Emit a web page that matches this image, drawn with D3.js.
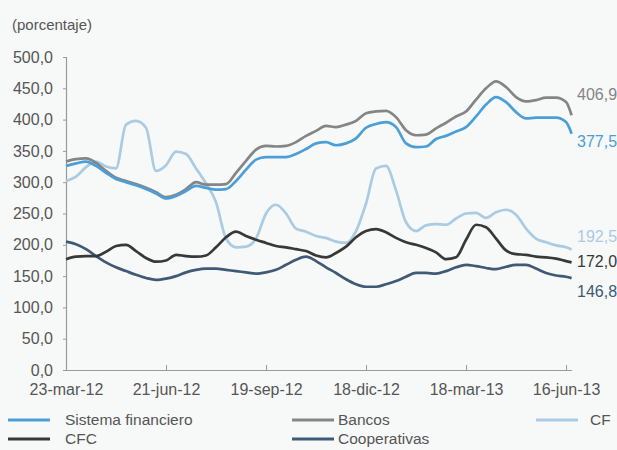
<!DOCTYPE html>
<html>
<head>
<meta charset="utf-8">
<script src="https://cdn.jsdelivr.net/npm/d3@7"></script>
<style>
  html, body { margin: 0; padding: 0; background: #f7f8f8; }
  svg { display: block; font-family: "Liberation Sans", Arial, sans-serif; }
</style>
</head>
<body>
<svg id="chart" width="617" height="450"></svg>
<script>
// ---- Data ----
const dates = [
  "2012-03-23","2012-04-01","2012-04-10","2012-04-19","2012-04-28","2012-05-07","2012-05-16","2012-05-25",
  "2012-06-03","2012-06-12","2012-06-21","2012-06-30","2012-07-09","2012-07-18","2012-07-27","2012-08-05",
  "2012-08-14","2012-08-23","2012-09-01","2012-09-10","2012-09-19","2012-09-28","2012-10-07","2012-10-16",
  "2012-10-25","2012-11-03","2012-11-12","2012-11-21","2012-11-30","2012-12-09","2012-12-18","2012-12-27",
  "2013-01-05","2013-01-14","2013-01-23","2013-02-01","2013-02-10","2013-02-19","2013-02-28","2013-03-09",
  "2013-03-18","2013-03-27","2013-04-05","2013-04-14","2013-04-23","2013-05-02","2013-05-11","2013-05-20",
  "2013-05-29","2013-06-07","2013-06-16","2013-06-21"
];
const sistemaFinanciero = [326,330,333,326,315,305,300,295,289,282,274,278,286,294,291,288,289,302,320,336,340,340,340,345,353,362,364,359,362,370,387,393,396,388,362,356,357,369,374,381,388,405,424,436,428,412,402,403,403,403,396,377.5];
const bancos = [333,337,338,331,318,307,302,297,291,284,276,280,289,300,296,296,297,315,334,352,358,357,358,364,374,382,390,388,392,398,410,413,414,404,383,375,376,386,395,405,413,432,450,461,452,436,429,431,435,435,428,406.9];
const cf = [302,309,324,333,325,322,392,398,387,318,327,349,345,322,298,268,210,196,197,210,250,264,250,226,221,214,211,205,203,222,266,322,326,287,236,222,231,233,232,242,250,251,243,252,256,248,226,210,204,199,196,192.5];
const cfc = [177,181,182,182,189,198,200,190,179,173,175,184,182,181,183,196,212,221,214,208,203,198,196,193,190,183,180,187,197,212,222,225,220,211,204,200,195,188,177,180,208,232,228,210,191,185,184,181,180,178,174,172.0];
const cooperativas = [205,201,193,182,172,164,158,152,147,144,146,150,156,160,162,162,160,158,156,154,156,160,168,176,181,174,164,155,145,137,133,133,137,142,149,155,155,154,158,164,168,166,163,161,165,168,168,162,155,151,149,146.8];

const seriesNames = ["Sistema financiero","Bancos","CF","CFC","Cooperativas"];
const endLabels = ["377,5","406,9","192,5","172,0","146,8"];

const xTickDates = ["2012-03-23","2012-06-21","2012-09-19","2012-12-18","2013-03-18","2013-06-16"];
const xTickLabels = ["23-mar-12","21-jun-12","19-sep-12","18-dic-12","18-mar-13","16-jun-13"];
const yTicks = [0,50,100,150,200,250,300,350,400,450,500];
const yTickLabels = ["0,0","50,0","100,0","150,0","200,0","250,0","300,0","350,0","400,0","450,0","500,0"];
const unitLabel = "(porcentaje)";

// ---- Setup ----
const parse = d3.timeParse("%Y-%m-%d");
const svg = d3.select("#chart");
const W = 617, H = 450;
const plotLeft = 66, plotTop = 57, plotBottom = 370;

svg.append("rect").attr("width", W).attr("height", H).attr("fill", "#f7f8f8");

const x = d3.scaleTime()
  .domain([parse(dates[0]), parse(dates[dates.length - 1])])
  .range([plotLeft, 571.6]);
const y = d3.scaleLinear().domain([0, 500]).range([plotBottom, plotTop]);

const textColor = "#565656";
const axisColor = "#9a9a9a";
const fontSize = 16;
const legendFontSize = 15.5;

// unit label
svg.append("text").attr("x", 12).attr("y", 30)
  .attr("font-size", 15).attr("fill", textColor).text(unitLabel);

// Y axis
const yAxis = d3.axisLeft(y).tickValues(yTicks)
  .tickFormat((d, i) => yTickLabels[i]).tickSize(3).tickPadding(10);
const gy = svg.append("g").attr("transform", `translate(${plotLeft},0)`).call(yAxis);
gy.select(".domain").attr("stroke", axisColor).attr("stroke-width", 1.2);
gy.selectAll(".tick line").attr("stroke", axisColor);
gy.selectAll(".tick text").attr("font-size", fontSize).attr("fill", textColor)
  .attr("font-family", "Liberation Sans, Arial, sans-serif");

// X axis
const xAxis = d3.axisBottom(x).tickValues(xTickDates.map(parse))
  .tickFormat((d, i) => xTickLabels[i]).tickSizeInner(-5).tickSizeOuter(0).tickPadding(14);
const gx = svg.append("g").attr("transform", `translate(0,${plotBottom})`).call(xAxis);
gx.select(".domain").attr("stroke", axisColor).attr("stroke-width", 1.2);
gx.selectAll(".tick line").attr("stroke", axisColor);
gx.selectAll(".tick text").attr("font-size", fontSize).attr("fill", textColor)
  .attr("font-family", "Liberation Sans, Arial, sans-serif");

// Lines
const series = [
  { name: seriesNames[2], values: cf, color: "#a9cbe3", label: endLabels[2], dy: -13 },
  { name: seriesNames[1], values: bancos, color: "#858585", label: endLabels[1], dy: -21 },
  { name: seriesNames[0], values: sistemaFinanciero, color: "#4b9fd6", label: endLabels[0], dy: 8 },
  { name: seriesNames[4], values: cooperativas, color: "#3f5a76", label: endLabels[4], dy: 13 },
  { name: seriesNames[3], values: cfc, color: "#383838", label: endLabels[3], dy: -1 }
];

const line = d3.line()
  .x((d, i) => x(parse(dates[i])))
  .y(d => y(d))
  .curve(d3.curveMonotoneX);

svg.selectAll("path.series").data(series).enter().append("path")
  .attr("class", "series")
  .attr("d", s => line(s.values))
  .attr("fill", "none")
  .attr("stroke", s => s.color)
  .attr("stroke-width", 2.7)
  .attr("stroke-linejoin", "round");

// End labels
svg.selectAll("text.endlabel").data(series).enter().append("text")
  .attr("class", "endlabel")
  .attr("x", 577)
  .attr("y", s => y(s.values[s.values.length - 1]) + s.dy)
  .attr("dy", "0.35em")
  .attr("font-size", fontSize)
  .attr("fill", s => s.color)
  .text(s => s.label);

// Legend
const legendItems = [
  { name: seriesNames[0], color: "#4b9fd6", lx: 8, ly: 420, tx: 57 },
  { name: seriesNames[1], color: "#858585", lx: 292, ly: 420, tx: 46 },
  { name: seriesNames[2], color: "#a9cbe3", lx: 536, ly: 420, tx: 54 },
  { name: seriesNames[3], color: "#383838", lx: 8, ly: 439, tx: 57 },
  { name: seriesNames[4], color: "#3f5a76", lx: 292, ly: 439, tx: 46 }
];
const lg = svg.selectAll("g.legend").data(legendItems).enter().append("g")
  .attr("class", "legend")
  .attr("transform", d => `translate(${d.lx},${d.ly})`);
lg.append("line").attr("x1", 0).attr("x2", 42).attr("y1", 0).attr("y2", 0)
  .attr("stroke", d => d.color).attr("stroke-width", 3);
lg.append("text").attr("x", d => d.tx).attr("dy", "0.35em")
  .attr("font-size", legendFontSize).attr("fill", textColor).text(d => d.name);
</script>
</body>
</html>
